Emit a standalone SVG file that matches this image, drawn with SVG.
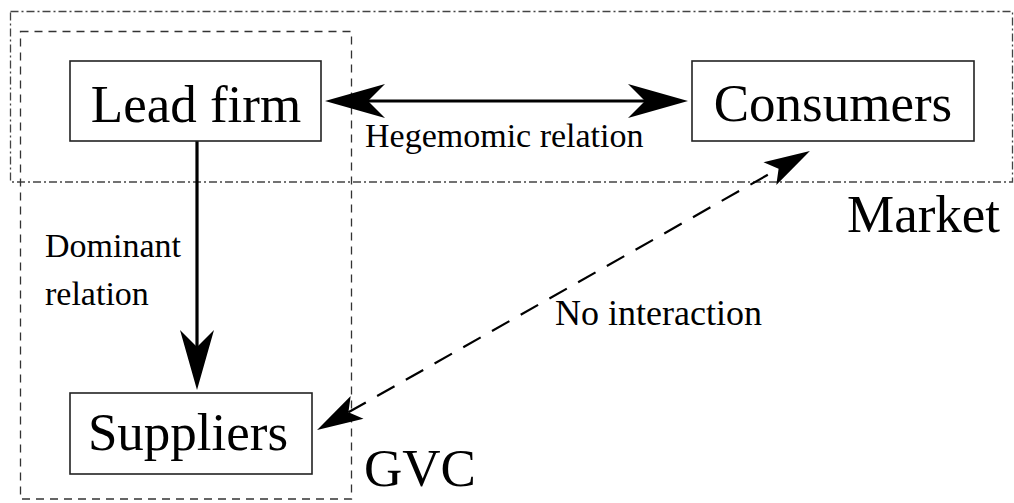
<svg xmlns="http://www.w3.org/2000/svg" width="1014" height="503" viewBox="0 0 1014 503" font-family="'Liberation Serif', 'DejaVu Serif', serif">
<style>
text{font-family:'Liberation Serif','DejaVu Serif',serif;fill:#000}
.node rect{fill:#fff;stroke:#222;stroke-width:1.6}
.big{font-size:53px}
.lbl{font-size:34px}
.solid{stroke:#000;stroke-width:3.2;fill:none}
.dash{stroke:#000;stroke-width:2.2;fill:none;stroke-dasharray:20 13}
</style>
<defs>
<marker id="ah" markerUnits="userSpaceOnUse" orient="auto-start-reverse" refX="0" refY="0" markerWidth="80" markerHeight="40" overflow="visible">
<path d="M43,0 L-17,-17 L0,0 L-17,17 Z" fill="#000"/>
</marker>
<marker id="ahs" markerUnits="userSpaceOnUse" orient="auto-start-reverse" refX="0" refY="0" markerWidth="60" markerHeight="30" overflow="visible">
<path d="M36,0 L-10,-13 L0,0 L-10,13 Z" fill="#000"/>
</marker>
</defs>
<g id="market-area">
<rect x="10.5" y="11.5" width="1002" height="170.5" fill="none" stroke="#444" stroke-width="1.3" stroke-dasharray="8 3 2 3"/>
<text class="big" x="847" y="232">Market</text>
</g>
<g id="gvc-area">
<rect x="20.5" y="31.5" width="331" height="467.5" fill="none" stroke="#333" stroke-width="1.3" stroke-dasharray="8 6"/>
<text class="big" x="364" y="486">GVC</text>
</g>
<g id="connectors">
<line class="solid" x1="368" y1="101" x2="645" y2="101" marker-start="url(#ah)" marker-end="url(#ah)"/>
<line class="solid" x1="197" y1="141" x2="197" y2="347" marker-end="url(#ah)"/>
<line class="dash" x1="348.4" y1="412.3" x2="778.6" y2="168.7" marker-start="url(#ahs)" marker-end="url(#ahs)"/>
<text class="lbl" x="365" y="147">Hegemomic relation</text>
<text class="lbl" x="45" y="257">Dominant</text>
<text class="lbl" x="45" y="305">relation</text>
<text class="lbl" x="555" y="325" style="font-size:36px">No interaction</text>
</g>
<g id="lead-firm" class="node">
<rect x="70" y="61" width="251" height="80"/>
<text class="big" x="196" y="122" text-anchor="middle">Lead firm</text>
</g>
<g id="consumers" class="node">
<rect x="692" y="61" width="282" height="80"/>
<text class="big" x="833" y="121" text-anchor="middle">Consumers</text>
</g>
<g id="suppliers" class="node">
<rect x="70" y="393" width="242" height="81"/>
<text class="big" x="188" y="450" text-anchor="middle">Suppliers</text>
</g>
</svg>
